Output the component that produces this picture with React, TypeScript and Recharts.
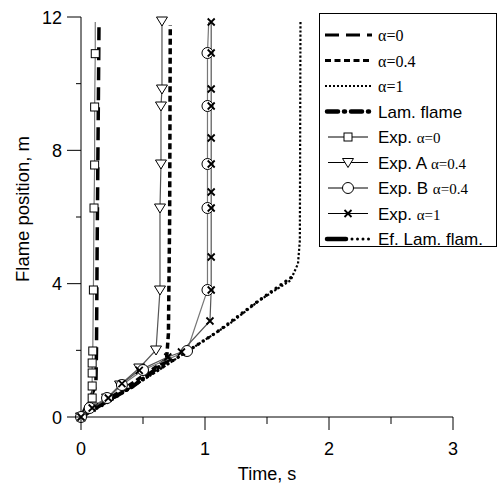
import React from "react";
import { ComposedChart, Line, XAxis, YAxis, Legend, Label } from "recharts";

type Pt = [number, number];

// model curves: [time s, flame position m]
const alpha0: Pt[] = [[0, 0], [0.06, 0.45], [0.12, 0.95], [0.125, 2], [0.13, 5], [0.145, 11.7]];
const alpha04: Pt[] = [[0, 0], [0.35, 0.85], [0.69, 1.72], [0.705, 2.5], [0.715, 6], [0.72, 11.75]];
const alpha1: Pt[] = [[0, 0], [0.5, 1.1], [0.9, 2.07], [1.2, 2.8], [1.44, 3.5], [1.69, 4.1], [1.75, 4.6], [1.765, 5.3], [1.77, 11.85]];
const lamFlame: Pt[] = [[0, 0], [0.2, 0.45], [0.41, 0.9], [0.65, 1.56], [0.72, 1.75]];
const efLamFlame: Pt[] = [[0, 0], [0.22, 0.45], [0.49, 1.1], [0.9, 2.07], [1.12, 2.61], [1.44, 3.51], [1.72, 4.25]];

// experiments
const expSquare: Pt[] = [[0, 0], [0.09, 0.57], [0.09, 0.93], [0.09, 1.32], [0.09, 1.62], [0.095, 1.98], [0.1, 3.81], [0.105, 6.27], [0.11, 7.56], [0.11, 9.3], [0.115, 10.9], [0.115, 11.85]];
const expTriA: Pt[] = [[0, 0], [0.09, 0.3], [0.21, 0.57], [0.315, 0.96], [0.47, 1.47], [0.605, 2.01], [0.637, 3.81], [0.637, 6.27], [0.645, 7.59], [0.645, 9.33], [0.653, 9.84], [0.653, 11.88]];
const expCircB: Pt[] = [[0, 0], [0.07, 0.27], [0.21, 0.57], [0.33, 0.96], [0.5, 1.41], [0.855, 1.98], [1.02, 3.81], [1.02, 6.27], [1.02, 7.59], [1.02, 9.33], [1.02, 10.92], [1.03, 11.85]];
const expCross: Pt[] = [[0, 0], [0.09, 0.27], [0.22, 0.57], [0.33, 1.0], [0.47, 1.4], [0.7, 1.8], [0.81, 1.95], [1.04, 2.88], [1.05, 3.81], [1.05, 4.8], [1.05, 6.27], [1.05, 6.75], [1.05, 7.59], [1.05, 8.37], [1.05, 9.33], [1.05, 9.84], [1.05, 10.92], [1.05, 11.85]];

const xTicks = [0, 0.5, 1, 1.5, 2, 2.5, 3];
const xLabels = [0, 1, 2, 3];
const yTicks = [0, 2, 4, 6, 8, 10, 12];
const yLabels = [0, 4, 8, 12];

const legendItems = ["α=0", "α=0.4", "α=1", "Lam. flame", "Exp. α=0", "Exp. A α=0.4", "Exp. B α=0.4", "Exp. α=1", "Ef. Lam. flam."];

const rows = (pts: Pt[]) => pts.map(([t, h]) => ({ t, h }));

const SANS = "'Liberation Sans', Arial, sans-serif";
const SERIF = "'Liberation Serif', 'Times New Roman', serif";

function Square({ cx, cy }: any) {
  return <rect x={cx - 4} y={cy - 4} width={8} height={8} fill="#fff" stroke="#000" strokeWidth={1} />;
}
function TriDown({ cx, cy }: any) {
  return <path d={`M${cx - 5.5},${cy - 4} L${cx + 5.5},${cy - 4} L${cx},${cy + 5} Z`} fill="#fff" stroke="#000" strokeWidth={1} />;
}
function Circ({ cx, cy }: any) {
  return <circle cx={cx} cy={cy} r={5.5} fill="#fff" stroke="#000" strokeWidth={1} />;
}
function Cross({ cx, cy }: any) {
  return (
    <path d={`M${cx - 3.5},${cy - 3.5} L${cx + 3.5},${cy + 3.5} M${cx - 3.5},${cy + 3.5} L${cx + 3.5},${cy - 3.5}`} stroke="#000" strokeWidth={1.8} />
  );
}

// marker renderer that can leave the last point bare
const marker = (Shape: any, skipLast: boolean, len: number) => (p: any) => {
  if (p.cx == null || (skipLast && p.index === len - 1)) return <g key={p.index} />;
  return <Shape key={p.index} cx={p.cx} cy={p.cy} />;
};

function XTick({ x, y, payload }: any) {
  const major = xLabels.includes(payload.value);
  return (
    <g>
      <line x1={x} x2={x} y1={y} y2={y + (major ? 13 : 7)} stroke="#000" />
      {major && (
        <text x={x} y={y + 38} textAnchor="middle" fontSize={18} fontFamily={SANS} fill="#000">
          {payload.value}
        </text>
      )}
    </g>
  );
}

function YTick({ x, y, payload }: any) {
  const major = yLabels.includes(payload.value);
  return (
    <g>
      <line x1={x} x2={x - (major ? 14 : 5)} y1={y} y2={y} stroke="#000" />
      {major && (
        <text x={x - 19} y={y + 6.5} textAnchor="end" fontSize={18} fontFamily={SANS} fill="#000">
          {payload.value}
        </text>
      )}
    </g>
  );
}

function LegendIcon({ i, y }: { i: number; y: number }) {
  const x1 = 6;
  const x2 = 53;
  switch (i) {
    case 0:
      return <line x1={x1} x2={x2} y1={y} y2={y} stroke="#000" strokeWidth={3} strokeDasharray="14 7" />;
    case 1:
      return <line x1={x1} x2={x2} y1={y} y2={y} stroke="#000" strokeWidth={3} strokeDasharray="6 3.5" />;
    case 2:
      return <line x1={x1} x2={x2} y1={y} y2={y} stroke="#000" strokeWidth={2} strokeDasharray="2 2" />;
    case 3:
      return <line x1={x1 + 2} x2={x2} y1={y} y2={y} stroke="#000" strokeWidth={4.5} strokeLinecap="round" strokeDasharray="11 6 1 6" />;
    case 8:
      return (
        <g>
          <line x1={x1 + 2} x2={27} y1={y} y2={y} stroke="#000" strokeWidth={4.5} strokeLinecap="round" />
          <line x1={33} x2={x2} y1={y} y2={y} stroke="#000" strokeWidth={3} strokeLinecap="round" strokeDasharray="0 5.5" />
        </g>
      );
    default: {
      const Shape = [Square, TriDown, Circ, Cross][i - 4];
      return (
        <g>
          <line x1={9} x2={49} y1={y} y2={y} stroke="#000" strokeWidth={1} />
          <Shape cx={29} cy={y} />
        </g>
      );
    }
  }
}

function LegendLabel({ text, y }: { text: string; y: number }) {
  const idx = text.indexOf("α");
  const pre = text.slice(0, idx);
  const greek = text.slice(idx);
  if (idx < 0) {
    return (
      <text x={59} y={y + 6} fontSize={17} fontFamily={SANS} fill="#000">
        {text}
      </text>
    );
  }
  return (
    <text x={59} y={y + 6} fill="#000">
      {pre && (
        <tspan fontSize={17} fontFamily={SANS}>
          {pre}
        </tspan>
      )}
      <tspan fontSize={pre ? 15 : 16} fontFamily={SERIF}>
        {greek}
      </tspan>
    </text>
  );
}

function LegendBox() {
  return (
    <svg width={179} height={235} style={{ display: "block" }}>
      <rect x={0.5} y={0.5} width={177} height={233} fill="#fff" stroke="#000" />
      {legendItems.map((t, i) => {
        const y = 22 + i * 25.5;
        return (
          <g key={t}>
            <LegendIcon i={i} y={y} />
            <LegendLabel text={t} y={y} />
          </g>
        );
      })}
    </svg>
  );
}

export default function App() {
  return (
    <div style={{ position: "absolute", left: 0, top: 0, width: 501, height: 496, background: "#fff" }}>
      <ComposedChart width={501} height={496} margin={{ top: 17, right: 48, bottom: 0, left: 0 }}>
        <XAxis
          dataKey="t"
          type="number"
          domain={[0, 3]}
          ticks={xTicks}
          interval={0}
          height={79}
          tickSize={0}
          tickMargin={0}
          tickLine={false}
          tick={<XTick />}
          axisLine={{ stroke: "#000", strokeWidth: 1 }}
        >
          <Label value="Time, s" position="insideBottom" offset={16} fontSize={18} fontFamily={SANS} fill="#000" />
        </XAxis>
        <YAxis
          dataKey="h"
          type="number"
          domain={[0, 12]}
          ticks={yTicks}
          interval={0}
          width={81}
          tickSize={0}
          tickMargin={0}
          tickLine={false}
          tick={<YTick />}
          axisLine={{ stroke: "#000", strokeWidth: 1 }}
        >
          <Label
            content={({ viewBox }: any) => {
              const cx = 22;
              const cy = viewBox.y + viewBox.height / 2 - 8;
              return (
                <text
                  x={cx}
                  y={cy}
                  transform={`rotate(-90, ${cx}, ${cy})`}
                  textAnchor="middle"
                  dominantBaseline="central"
                  fontSize={18.5}
                  fontFamily={SANS}
                  fill="#000"
                >
                  Flame position, m
                </text>
              );
            }}
          />
        </YAxis>
        <Legend
          layout="vertical"
          verticalAlign="middle"
          align="center"
          wrapperStyle={{ left: 319, top: 13, width: 179, height: 235 }}
          content={() => <LegendBox />}
        />

        <Line data={rows(efLamFlame)} dataKey="h" type="linear" stroke="#000" strokeWidth={3.5} strokeLinecap="round" strokeDasharray="0 6" dot={false} activeDot={false} isAnimationActive={false} legendType="none" />
        <Line data={rows(lamFlame)} dataKey="h" type="linear" stroke="#000" strokeWidth={4} strokeLinecap="round" strokeDasharray="9 5 0.5 5" dot={false} activeDot={false} isAnimationActive={false} legendType="none" />
        <Line data={rows(alpha1)} dataKey="h" type="linear" stroke="#000" strokeWidth={2.2} strokeDasharray="2.2 2" dot={false} activeDot={false} isAnimationActive={false} legendType="none" />
        <Line data={rows(alpha04)} dataKey="h" type="linear" stroke="#000" strokeWidth={3.5} strokeDasharray="6 3.5" dot={false} activeDot={false} isAnimationActive={false} legendType="none" />
        <Line data={rows(alpha0)} dataKey="h" type="linear" stroke="#000" strokeWidth={3.5} strokeDasharray="13 7" dot={false} activeDot={false} isAnimationActive={false} legendType="none" />

        <Line data={rows(expSquare)} dataKey="h" type="linear" stroke="#777" strokeWidth={1.2} dot={marker(Square, true, expSquare.length)} activeDot={false} isAnimationActive={false} legendType="none" />
        <Line data={rows(expTriA)} dataKey="h" type="linear" stroke="#555" strokeWidth={1.2} dot={marker(TriDown, false, expTriA.length)} activeDot={false} isAnimationActive={false} legendType="none" />
        <Line data={rows(expCircB)} dataKey="h" type="linear" stroke="#777" strokeWidth={1.2} dot={marker(Circ, true, expCircB.length)} activeDot={false} isAnimationActive={false} legendType="none" />
        <Line data={rows(expCross)} dataKey="h" type="linear" stroke="#555" strokeWidth={1.2} dot={marker(Cross, false, expCross.length)} activeDot={false} isAnimationActive={false} legendType="none" />
      </ComposedChart>
    </div>
  );
}
